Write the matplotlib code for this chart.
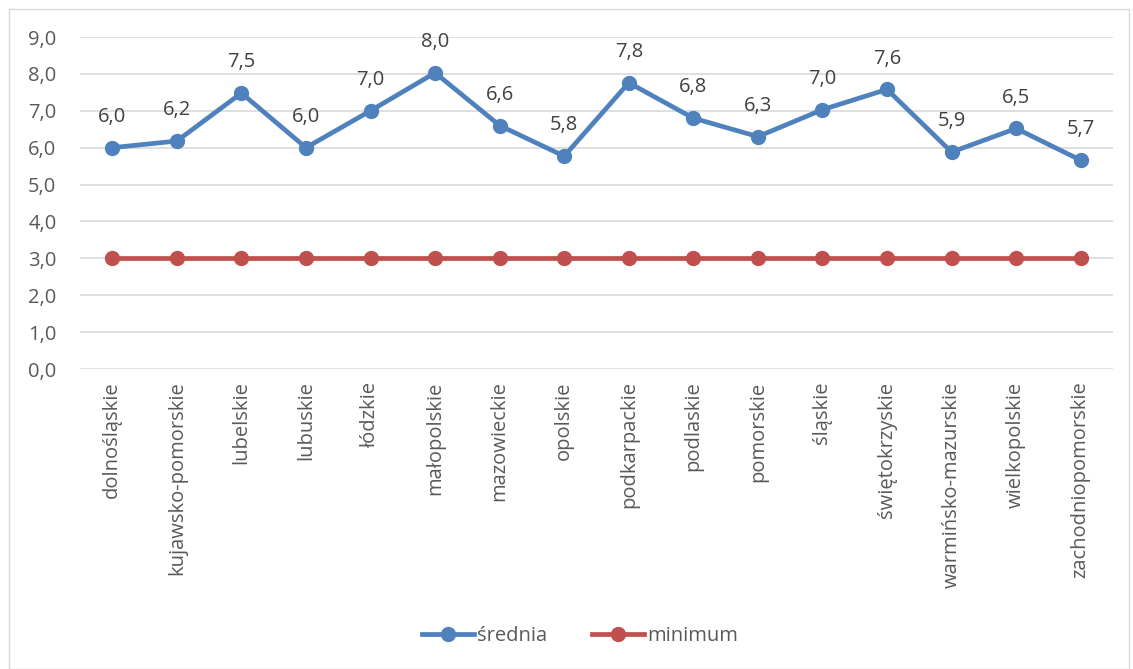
import matplotlib.pyplot as plt
from matplotlib.patches import Rectangle

plt.rcParams['font.family'] = ['Open Sans', 'DejaVu Sans']

wojewodztwa = ['dolnośląskie', 'kujawsko-pomorskie', 'lubelskie', 'lubuskie', 'łódzkie',
               'małopolskie', 'mazowieckie', 'opolskie', 'podkarpackie', 'podlaskie',
               'pomorskie', 'śląskie', 'świętokrzyskie', 'warmińsko-mazurskie',
               'wielkopolskie', 'zachodniopomorskie']
srednia = [6.0, 6.18, 7.48, 6.0, 7.0, 8.03, 6.6, 5.77, 7.76, 6.8, 6.3, 7.03, 7.58, 5.88, 6.52, 5.66]
minimum = [3.0] * 16
y_ticks = [0, 1, 2, 3, 4, 5, 6, 7, 8, 9]

blue = '#4F81BD'
red = '#C0504D'
txt = '#595959'
fs = 14.5

fig = plt.figure(figsize=(11.33, 6.69), dpi=100)
ax = fig.add_axes([80 / 1133, 1 - 369 / 669, 1033 / 1133, 332 / 669])

fig.patches.append(Rectangle((9 / 1133, 0.0), 1120 / 1133, 1 - 9 / 669, transform=fig.transFigure,
                             fill=False, edgecolor='#D9D9D9', linewidth=1))

x = list(range(len(wojewodztwa)))
ax.plot(x, srednia, color=blue, linewidth=3.4, marker='o', markersize=10, label='średnia', zorder=3)
ax.plot(x, minimum, color=red, linewidth=3.4, marker='o', markersize=10, label='minimum', zorder=3)

for xi, v in zip(x, srednia):
    ax.annotate(('%.1f' % v).replace('.', ','), (xi, v), textcoords='offset points', xytext=(0, 15),
                ha='center', va='bottom', fontsize=fs, color='#404040')

ax.set_xlim(-0.5, len(wojewodztwa) - 0.5)
ax.set_ylim(0, 9)
ax.set_yticks(y_ticks)
ax.set_yticklabels([('%.1f' % t).replace('.', ',') for t in y_ticks], fontsize=fs, color=txt)
ax.set_xticks(x)
ax.set_xticklabels(wojewodztwa, rotation=90, fontsize=fs, color=txt)
ax.tick_params(length=0, pad=9)
ax.tick_params(axis='y', pad=17)
ax.grid(axis='y', color='#D9D9D9', linewidth=1.2)
ax.set_axisbelow(True)
for s in ax.spines.values():
    s.set_visible(False)

leg = fig.legend(loc='center', bbox_to_anchor=(580 / 1133, 1 - 636 / 669), ncol=2, frameon=False,
                 fontsize=fs, handlelength=2.6, handletextpad=0.15, columnspacing=2.2)
for t in leg.get_texts():
    t.set_color(txt)

fig.savefig('out.png', dpi=100)
